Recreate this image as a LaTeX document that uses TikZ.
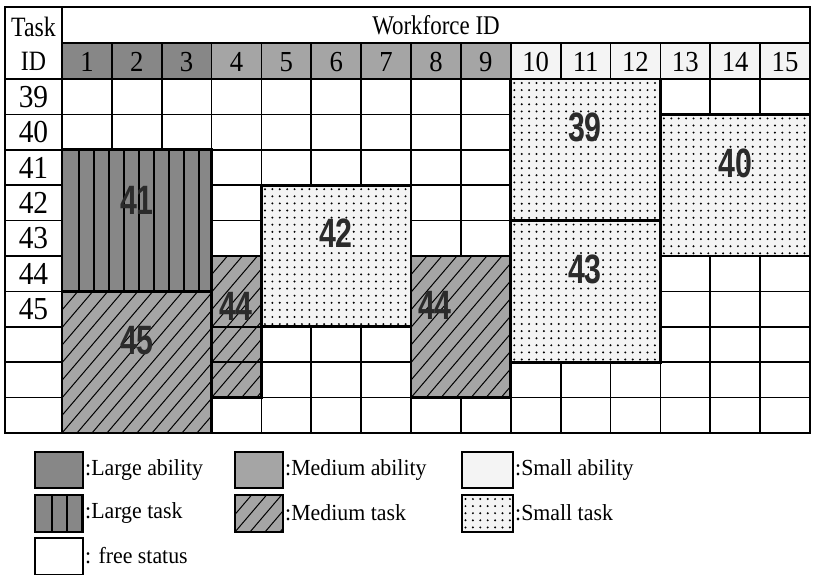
\documentclass[tikz,border=0pt]{standalone}
\usepackage{fontspec}
\setmainfont{Liberation Serif}
\newfontfamily\hdrfont[FakeStretch=0.85]{Liberation Serif}
\newfontfamily\numfont[FakeStretch=0.92]{Liberation Serif}
\newfontfamily\legfont[FakeStretch=0.95]{Liberation Serif}
\newfontfamily\lblfont[FakeStretch=0.74,BoldFeatures={FakeStretch=0.74}]{Liberation Sans}
\definecolor{largeC}{HTML}{878787}
\definecolor{medC}{HTML}{A5A5A5}
\definecolor{smallC}{HTML}{F4F4F4}
\definecolor{lblC}{HTML}{2B2B2B}
\tikzset{
  gridln/.style={line width=1.7pt, black},
  thickln/.style={line width=2.8pt, black},
  blockedge/.style={line width=2.8pt, black},
  legedge/.style={line width=1.8pt, black},
  hatchln/.style={line width=1pt, black},
  vln/.style={line width=1.4pt, black},
  lbl/.style={font=\lblfont\bfseries\fontsize{41}{41}\selectfont, text=lblC, inner sep=0pt},
  hnum/.style={font=\numfont\fontsize{29}{29}\selectfont, inner sep=0pt},
  tnum/.style={font=\numfont\fontsize{32}{32}\selectfont, inner sep=0pt},
  htxt/.style={font=\hdrfont\fontsize{27}{27}\selectfont, inner sep=0pt},
  legtxt/.style={font=\legfont\fontsize{23}{23}\selectfont, anchor=west, inner sep=0pt}
}
\newcommand{\smallbox}[4]{%
  \fill[smallC] (#1,#2) rectangle (#3,#4);
  \begin{scope}
    \clip (#1,#2) rectangle (#3,#4);
    \foreach \di in {0,...,21}{\foreach \dj in {0,...,21}{%
      \fill ({#1+3.5+7.4*\di},{#2+4+7.1*\dj}) circle[radius=1.1pt];}}
  \end{scope}}
\newcommand{\medbox}[4]{%
  \fill[medC] (#1,#2) rectangle (#3,#4);
  \begin{scope}
    \clip (#1,#2) rectangle (#3,#4);
    \foreach \hk in {-10,...,11} \draw[hatchln] ({#1+15*\hk},#4) -- ++(128,-150);
  \end{scope}}
\newcommand{\largebox}[4]{%
  \fill[largeC] (#1,#2) rectangle (#3,#4);
  \begin{scope}
    \clip (#1,#2) rectangle (#3,#4);
    \foreach \vk in {1,...,10} \draw[vln] ({#1+2+15*\vk},#2) -- ({#1+2+15*\vk},#4);
  \end{scope}}
\begin{document}
\begin{tikzpicture}[x=1pt,y=-1pt]
\useasboundingbox (0,0) rectangle (815,576);
\fill[white] (0,0) rectangle (815,576);
% header colour cells
\fill[largeC] (62,43) rectangle (211.6,79);
\fill[medC] (211.6,43) rectangle (510.8,79);
\fill[smallC] (510.8,43) rectangle (810,79);
% grid
\foreach \yy in {79,114.4,149.8,185.2,220.6,256,291.4,326.8,362.2,397.6}
  \draw[gridln] (5,\yy) -- (810,\yy);
\draw[gridln] (62,43) -- (810,43);
\foreach \xx in {111.87,161.73,211.6,261.47,311.33,361.2,411.07,460.93,510.8,560.67,610.53,660.4,710.27,760.13}
  \draw[gridln] (\xx,43) -- (\xx,433);
\draw[gridln] (5,7) rectangle (810,433);
\draw[thickln] (62,7) -- (62,433);
% task blocks
\largebox{62}{149.8}{211.6}{291.4}
\draw[blockedge] (62,149.8) rectangle (211.6,291.4);
\medbox{62}{291.4}{211.6}{433}
\draw[blockedge] (62,291.4) rectangle (211.6,433);
\medbox{211.6}{256}{261.47}{397.6}
\draw[gridln] (211.6,326.8) -- (261.47,326.8);
\draw[gridln] (211.6,362.2) -- (261.47,362.2);
\draw[blockedge] (211.6,256) rectangle (261.47,397.6);
\smallbox{261.47}{185.2}{411.07}{326.8}
\draw[blockedge] (261.47,185.2) rectangle (411.07,326.8);
\medbox{411.07}{256}{510.8}{397.6}
\draw[blockedge] (411.07,256) rectangle (510.8,397.6);
\smallbox{510.8}{79}{660.4}{220.6}
\draw[blockedge] (510.8,79) rectangle (660.4,220.6);
\smallbox{660.4}{114.4}{810}{256}
\draw[blockedge] (660.4,114.4) rectangle (810,256);
\smallbox{510.8}{220.6}{660.4}{362.2}
\draw[blockedge] (510.8,220.6) rectangle (660.4,362.2);
% block labels
\node[lbl] (b41) at (137,200) {41};
\node[lbl] (b45) at (137,341) {45};
\node[lbl] (b44a) at (236,306) {44};
\node[lbl] (b42) at (336,233) {42};
\node[lbl] (b44b) at (435,305) {44};
\node[lbl] (b39) at (585,127) {39};
\node[lbl] (b40) at (735,163) {40};
\node[lbl] (b43) at (585,269) {43};
% header texts
\node[htxt] (wf) at (436,25) {Workforce ID};
\node[htxt,font=\hdrfont\fontsize{28}{28}\selectfont] (tk) at (33.5,27) {Task};
\node[htxt,font=\hdrfont\fontsize{28}{28}\selectfont] (tid) at (33.5,61) {ID};
\foreach \k in {1,...,15}{%
  \pgfmathsetmacro\xc{62+49.8667*(\k-0.5)}
  \node[hnum] (h\k) at (\xc,62) {\k};}
\foreach \t [count=\r from 0] in {39,...,45}{%
  \pgfmathsetmacro\yc{79+35.4*(\r+0.5)}
  \node[tnum] (t\t) at (33.5,\yc) {\t};}
% legend
\fill[largeC] (35,452) rectangle (83,488);
\draw[legedge] (35,452) rectangle (83,488);
\node[legtxt] (l1) at (85,470) {:Large ability};
\fill[medC] (235,452) rectangle (283,488);
\draw[legedge] (235,452) rectangle (283,488);
\node[legtxt] (l2) at (285,470) {:Medium ability};
\fill[smallC] (462,452) rectangle (513,488);
\draw[legedge] (462,452) rectangle (513,488);
\node[legtxt] (l3) at (515,470) {:Small ability};
\largebox{35}{495}{83}{532}
\draw[legedge] (35,495) rectangle (83,532);
\node[legtxt] (l4) at (85,513) {:Large task};
\medbox{235}{495}{283}{532}
\draw[legedge] (235,495) rectangle (283,532);
\node[legtxt] (l5) at (285,513) {:Medium task};
\smallbox{462}{495}{513}{532}
\draw[legedge] (462,495) rectangle (513,532);
\node[legtxt] (l6) at (515,513) {:Small task};
\draw[legedge] (35,538) rectangle (83,574.5);
\node[legtxt] (l7) at (85,556) {: free status};
\end{tikzpicture}
\end{document}
